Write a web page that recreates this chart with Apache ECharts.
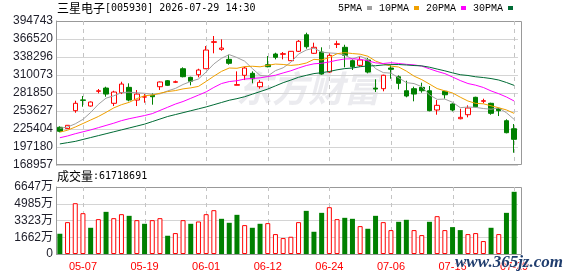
<!DOCTYPE html>
<html><head><meta charset="utf-8">
<script src="https://cdn.jsdelivr.net/npm/echarts@6/dist/echarts.min.js"></script>
<style>html,body{margin:0;padding:0;background:#fff}#c{width:578px;height:276px}</style>
</head><body><div id="c"></div>
<script>
const stockName = '三星电子';
const stockCode = '005930';
const stamp = '2026-07-29 14:30';
const lastVolume = 61718691;

const dates = ['04-30','05-04','05-06','05-07','05-08','05-11','05-12','05-13','05-14','05-15',
  '05-18','05-19','05-20','05-21','05-22','05-26','05-27','05-28','05-29','06-01',
  '06-02','06-04','06-05','06-08','06-09','06-10','06-11','06-12','06-15','06-16',
  '06-17','06-18','06-19','06-22','06-23','06-24','06-25','06-26','06-29','06-30',
  '07-01','07-02','07-03','07-06','07-07','07-08','07-09','07-10','07-13','07-14',
  '07-15','07-16','07-20','07-21','07-22','07-23','07-24','07-27','07-28','07-29'];

const opens = [228100,226000,254100,271000,261400,284500,289600,265700,282300,290700,
  270800,275500,278200,291700,301100,298700,319900,306400,310500,319900,
  361300,350300,334600,294000,309600,312700,291700,326200,343000,342500,
  332500,347200,373200,344100,346100,314700,358000,353500,332500,325200,
  333600,289500,288600,321000,307400,285400,288600,290700,285400,255200,
  284500,264600,241500,247800,275100,268800,265700,257200,238400,225800];
const closes = [221800,231200,265700,270300,267700,285300,280200,283400,295900,270800,
  280200,275800,276000,299100,293900,299500,307400,300200,317900,349200,
  362300,352400,328400,295000,321000,304200,298600,323100,337800,343500,
  347200,362900,354400,353500,311600,340900,359000,340900,323100,333600,
  314700,288000,309600,319000,297000,277100,280200,285400,254100,262500,
  279100,255200,243700,258300,260300,269800,250000,254100,219600,209200];
const lows = [220200,225500,250900,260300,260500,281300,276000,261400,280200,268800,
  261400,266600,263500,286500,292800,297500,306400,293900,306400,319400,
  344100,348100,326200,293900,302200,297000,288600,322100,334600,334600,
  332000,346100,351300,343000,310500,313600,352400,322100,317900,323100,
  312700,283400,284500,304200,287600,275100,268800,282300,253100,247800,
  272900,253100,240600,243700,259400,265700,247800,245700,218600,188200];
const highs = [229600,231500,269700,277100,268500,288100,291700,285400,299500,297000,
  286500,280200,281300,299900,302200,301400,322100,307400,319900,355500,
  371200,366000,341900,315800,323100,315800,302200,339800,345000,346100,
  347700,364900,376400,360700,353500,344100,363800,357500,334600,339800,
  336700,303300,310500,325200,309600,301100,291700,298000,292800,270800,
  285400,265700,257200,262500,276000,272900,266600,258300,240600,233200];

const volumes = [20090000,31610000,50380000,40500000,26010000,34580000,41820000,35560000,39520000,37870000,
  33590000,29970000,33590000,35560000,18110000,20750000,33590000,29970000,32270000,39520000,
  43470000,34910000,30950000,38860000,28650000,26010000,29970000,30620000,19760000,15810000,
  17120000,31610000,42810000,22060000,40830000,46430000,34580000,35890000,34910000,27660000,
  25030000,37870000,31610000,23710000,31940000,33920000,23710000,18770000,31940000,37540000,
  23710000,26670000,23710000,19760000,20750000,12840000,26010000,19760000,40830000,61718691];

const ma5 = [226500,228500,233500,240500,251300,264000,273800,277400,282500,283100,
  282100,281400,279900,280500,285100,289000,295200,300000,303800,314800,
  327400,336400,342000,337500,331800,320200,309400,308400,316900,321400,
  330000,342900,349200,352300,345900,344700,343900,341200,335100,339500,
  334300,320100,313800,313000,305700,298100,296600,291700,278800,271900,
  272300,267300,258900,259800,259300,257500,256400,258500,250800,240500];
const ma10 = [220500,223500,228500,234000,239500,245000,251500,258500,263500,267200,
  273100,277600,278600,281500,284100,285600,288300,289900,292200,300000,
  308200,315800,321000,320600,323300,323800,322900,325200,327200,326600,
  325100,326200,328800,334600,333700,337400,343400,345200,343700,342700,
  339500,332000,327500,324000,322600,316200,308300,302800,295900,288800,
  285200,281900,275300,269300,265600,264900,261800,258700,255300,249900];
const ma20 = [211700,214500,218000,221000,224000,227500,231000,234500,238500,241500,
  244000,246500,249500,254500,259500,264500,268500,273500,278500,283600,
  290600,296700,299800,301100,303700,304700,305600,307600,309700,313300,
  316700,321000,324900,327600,328500,330600,333200,335200,335500,334700,
  332300,329100,328100,329300,328100,326800,325900,324000,319800,315700,
  312300,306900,301400,296700,294100,290500,285100,280700,275600,269300];
const ma30 = [202000,204000,206000,209000,212000,215000,218000,221000,224000,227000,
  230000,233000,237000,241000,245000,248000,251000,254000,257000,260000,
  263500,267000,270500,273000,276000,280000,284000,288000,293000,298000,
  302100,306500,309500,312300,313700,315600,318200,320100,321000,323100,
  324300,324600,325800,326400,326500,325800,324900,324400,322300,319400,
  316600,313400,310500,309300,307300,306100,304500,302200,298300,293800];

const priceTicks = [168957,197180,225404,253627,281850,310073,338296,366520,394743];
const volTicks = [0,16620000,33230000,49850000,66470000];
const labelDates = ['05-07','05-19','06-01','06-12','06-24','07-06','07-16','07-29'];

const RED = '#ff0000', GREEN = '#008000';
const kData = dates.map((d, i) => [opens[i], closes[i], lows[i], highs[i]]);
const volData = volumes.map((v, i) => {
  const up = i === 0 ? closes[i] >= opens[i] : closes[i] >= closes[i - 1];
  return { value: v, itemStyle: up ? { color: '#fff', borderColor: RED, borderWidth: 1 } : { color: GREEN, borderColor: GREEN, borderWidth: 0 } };
});
const isLabelDate = (idx, val) => labelDates.indexOf(val) >= 0;
const maColors = ['#a0a0a0', '#f0a000', '#ff00ff', '#006b35'];
const maNames = ['5PMA', '10PMA', '20PMA', '30PMA'];
const maData = [ma5, ma10, ma20, ma30];

function dashRender(params, api) {
  const p = api.coord([api.value(0), api.value(1)]);
  const cs = params.coordSys;
  const x = Math.round(p[0]) + 0.5;
  return { type: 'line', silent: true,
    shape: { x1: x, y1: cs.y, x2: x, y2: cs.y + cs.height },
    style: { stroke: '#c4c4c4', lineWidth: 1, lineDash: [4, 4] } };
}
const dashK = labelDates.map(d => [dates.indexOf(d), priceTicks[0]]);
const dashV = labelDates.map(d => [dates.indexOf(d), volTicks[0]]);

const chart = echarts.init(document.getElementById('c'), null, { renderer: 'canvas' });
chart.setOption({
  animation: false,
  backgroundColor: '#fff',
  title: [
    { text: '{a|' + stockName + '}{b|[' + stockCode + '] ' + stamp + '}', left: 57, top: 2, padding: 0,
      textStyle: { fontWeight: 'normal', rich: {
        a: { fontFamily: 'Noto Sans CJK SC', fontSize: 12, fontWeight: 'normal', color: '#000' },
        b: { fontFamily: 'DejaVu Sans Mono', fontSize: 10, fontWeight: 'normal', color: '#000' } } } },
    { text: '{a|成交量}{b|:' + lastVolume + '}', left: 57, top: 170, padding: 0,
      textStyle: { fontWeight: 'normal', rich: {
        a: { fontFamily: 'Noto Sans CJK SC', fontSize: 12, fontWeight: 'normal', color: '#000' },
        b: { fontFamily: 'DejaVu Sans Mono', fontSize: 10, fontWeight: 'normal', color: '#000' } } } }
  ],
  legend: {
    data: maNames, left: 338, top: 3, padding: 0, align: 'right', icon: 'rect',
    itemWidth: 5, itemHeight: 4, itemGap: 7, selectedMode: false,
    textStyle: { fontFamily: 'Liberation Mono', fontSize: 10, color: '#000', padding: [1, 0, 0, 0] }
  },
  grid: [
    { left: 56, top: 21, width: 462, height: 144, outerBoundsMode: 'none' },
    { left: 56, top: 187, width: 462, height: 67, outerBoundsMode: 'none' }
  ],
  xAxis: [
    { type: 'category', gridIndex: 0, data: dates, boundaryGap: true,
      axisLine: { show: false }, axisTick: { show: false }, axisLabel: { show: false }, splitLine: { show: false } },
    { type: 'category', gridIndex: 1, data: dates, boundaryGap: true,
      axisLine: { show: false }, axisTick: { show: false }, splitLine: { show: false },
      axisLabel: { interval: isLabelDate, color: RED, fontSize: 11,
        fontFamily: 'Liberation Sans', margin: 7 } }
  ],
  yAxis: [
    { type: 'value', gridIndex: 0, min: priceTicks[0], max: priceTicks[priceTicks.length - 1],
      axisLine: { show: true, lineStyle: { color: '#999' } },
      axisTick: { show: false, customValues: priceTicks },
      axisLabel: { customValues: priceTicks, formatter: v => String(Math.round(v)), color: '#1e1e2a',
        fontSize: 12, fontFamily: 'Liberation Sans', margin: 3 },
      splitLine: { show: true, lineStyle: { color: '#d4d4d4', width: 1 } } },
    { type: 'value', gridIndex: 1, min: volTicks[0], max: volTicks[volTicks.length - 1],
      axisLine: { show: true, lineStyle: { color: '#999' } },
      axisTick: { show: false, customValues: volTicks },
      axisLabel: { customValues: volTicks, formatter: v => v === 0 ? '0' : Math.round(v / 10000) + '万',
        color: '#1e1e2a', fontSize: 12, fontFamily: 'Liberation Sans, Noto Sans CJK SC', margin: 3 },
      splitLine: { show: true, lineStyle: { color: '#d4d4d4', width: 1 } } }
  ],
  graphic: [
    { type: 'text', z: 0, silent: true, style: { x: 236, y: 70, text: '东方财富',
      font: 'italic bold 36px "Noto Sans CJK SC"', fill: '#ebebef' } },
    { type: 'rect', z: 1, silent: true, shape: { x: 56.5, y: 21.5, width: 465, height: 143 },
      style: { fill: 'none', stroke: '#999', lineWidth: 1 } },
    { type: 'rect', z: 1, silent: true, shape: { x: 56.5, y: 187.5, width: 465, height: 67 },
      style: { fill: 'none', stroke: '#999', lineWidth: 1 } },
    { type: 'text', z: 100, silent: true, style: { x: 455, y: 254, text: 'www.365jz.com',
      font: 'italic bold 17px "Liberation Serif"', fill: '#1f3d6e', stroke: '#fff', lineWidth: 1 } }
  ],
  series: [
    { type: 'custom', name: 'gridK', xAxisIndex: 0, yAxisIndex: 0, data: dashK,
      dimensions: ['x', 'y'], encode: { x: 0, y: 1 }, clip: false,
      renderItem: dashRender, silent: true, z: 1 },
    { type: 'custom', name: 'gridV', xAxisIndex: 1, yAxisIndex: 1, data: dashV,
      dimensions: ['x', 'y'], encode: { x: 0, y: 1 }, clip: false,
      renderItem: dashRender, silent: true, z: 1 },
    { type: 'candlestick', name: 'K', xAxisIndex: 0, yAxisIndex: 0, data: kData, barWidth: 5, silent: true,
      itemStyle: { color: '#fff', color0: GREEN, borderColor: RED, borderColor0: GREEN, borderWidth: 1 } },
    ...maNames.map((n, k) => ({
      type: 'line', name: n, xAxisIndex: 0, yAxisIndex: 0, data: maData[k], color: maColors[k],
      symbol: 'none', showSymbol: false, silent: true, z: 4,
      lineStyle: { width: 1, color: maColors[k] } })),
    { type: 'bar', name: 'VOL', xAxisIndex: 1, yAxisIndex: 1, data: volData, barWidth: 5, silent: true }
  ]
});
</script></body></html>
